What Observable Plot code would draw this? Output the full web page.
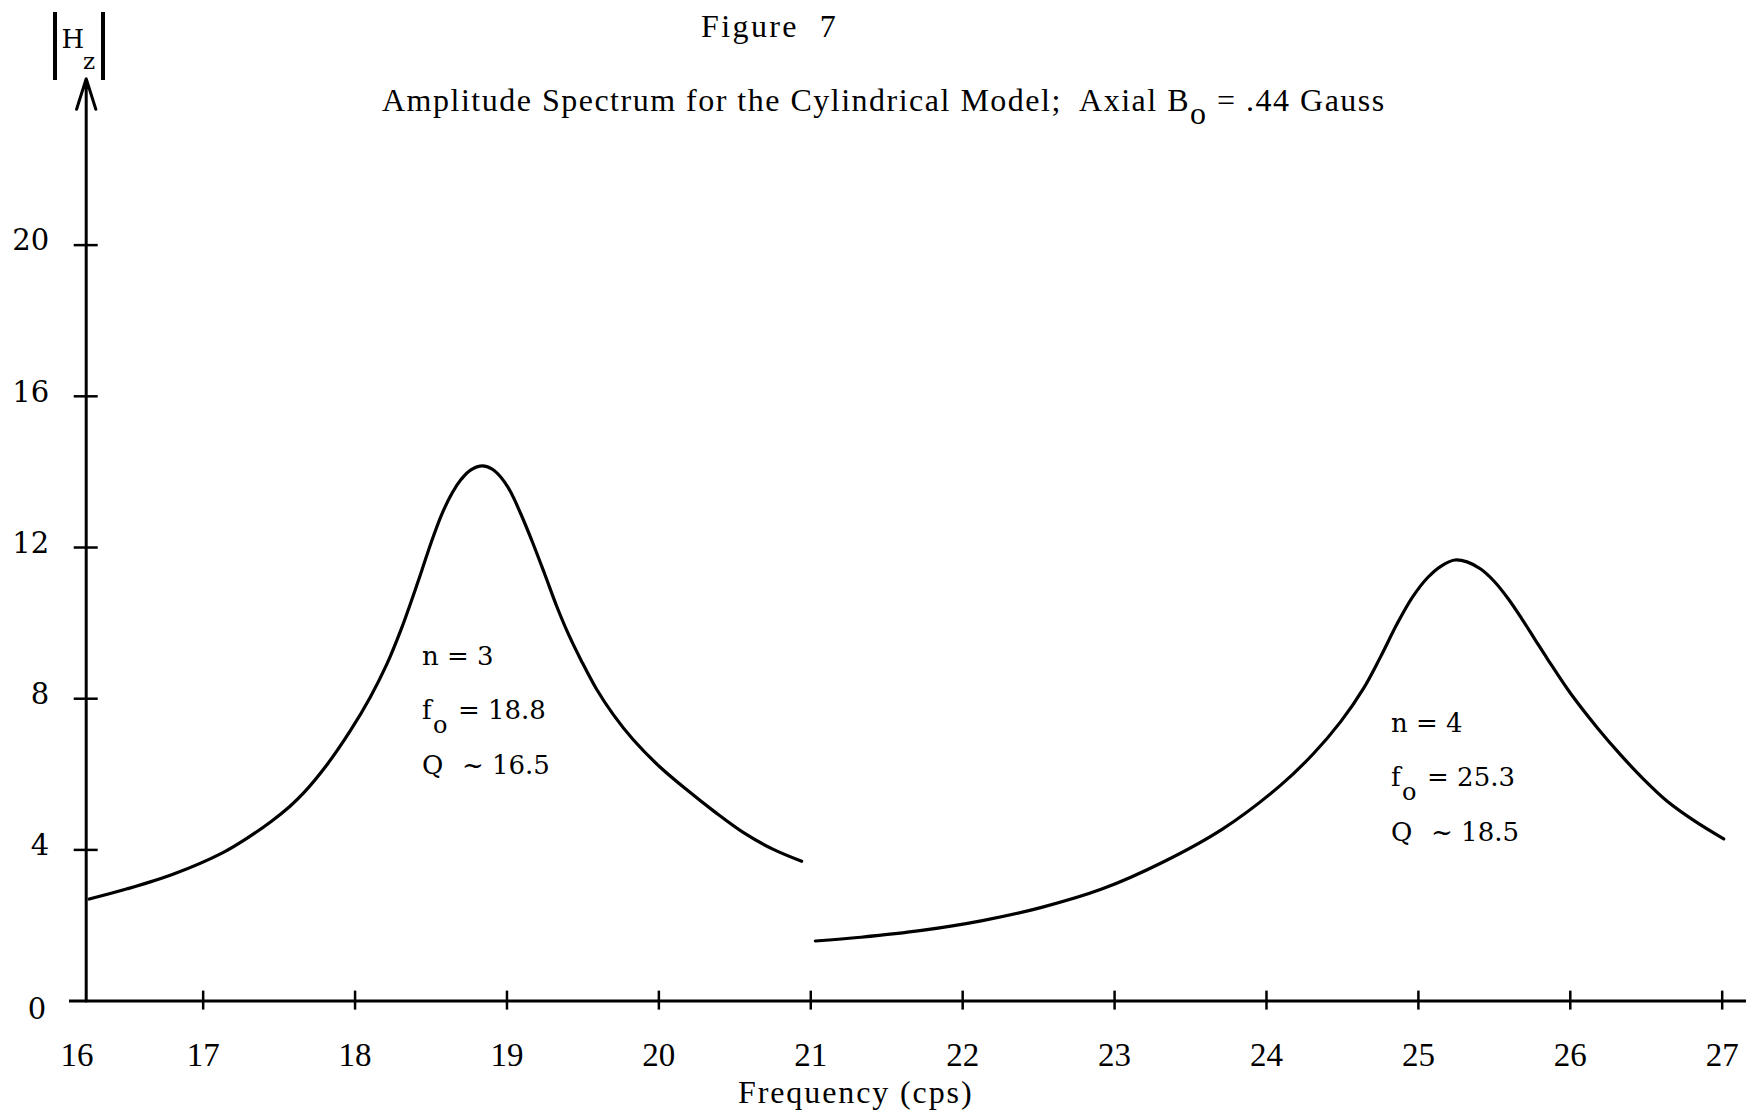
<!DOCTYPE html>
<html>
<head>
<meta charset="utf-8">
<script src="https://cdn.jsdelivr.net/npm/d3@7"></script>
<script src="https://cdn.jsdelivr.net/npm/@observablehq/plot@0.6"></script>
<style>
  body { margin: 0; background: #fff; }
  #wrap { position: relative; width: 1746px; height: 1115px; overflow: hidden; background: #fff; }
  #chart svg { position: absolute; left: 0; top: 0; }
  .t { position: absolute; font-family: "Liberation Serif", serif; line-height: 1; white-space: pre; color: #000; z-index: 2; }
  #hz { position: absolute; left: 53px; top: 12px; width: 43.7px; height: 68px; border-left: 4px solid #000; border-right: 4px solid #000; font-family: "DejaVu Serif", serif; z-index: 2; }
  #hz span { position: absolute; line-height: 1; }
</style>
</head>
<body>
<div id="wrap">
  <div class="t" style="left:701px;top:10px;font-size:32px;letter-spacing:2.4px;">Figure  7</div>
  <div class="t" style="left:382px;top:84px;font-size:32px;letter-spacing:1.5px;">Amplitude Spectrum for the Cylindrical Model;  Axial B<span style="position:relative;top:13px;">o</span> = .44 Gauss</div>
  <div class="t" style="left:738px;top:1076px;font-size:32px;letter-spacing:1.9px;">Frequency (cps)</div>
  <div id="hz"><span style="left:4.5px;top:14px;font-size:26px;">H</span><span style="left:26px;top:37.5px;font-size:23px;">z</span></div>
  <div id="chart"></div>
</div>
<script>
// ---- data ----
const n3Freq = [16.25, 16.50, 16.81, 17.13, 17.30, 17.45, 17.57, 17.66, 17.82, 17.97, 18.10, 18.21, 18.30, 18.37, 18.44, 18.50, 18.57, 18.64, 18.70, 18.76, 18.84, 18.90, 18.96, 19.02, 19.09, 19.17, 19.25, 19.33, 19.41, 19.49, 19.59, 19.70, 19.83, 20.00, 20.19, 20.37, 20.56, 20.75, 20.94];
const n3Amp  = [2.70, 2.97, 3.37, 3.93, 4.34, 4.76, 5.15, 5.50, 6.28, 7.16, 8.04, 8.92, 9.80, 10.58, 11.40, 12.12, 12.87, 13.45, 13.81, 14.05, 14.16, 14.08, 13.86, 13.50, 12.90, 12.12, 11.28, 10.42, 9.66, 9.00, 8.25, 7.58, 6.92, 6.22, 5.57, 5.00, 4.45, 4.02, 3.70];
const n4Freq = [21.03, 21.33, 21.73, 22.13, 22.52, 22.92, 23.32, 23.71, 24.09, 24.31, 24.49, 24.64, 24.75, 24.86, 24.96, 25.06, 25.15, 25.24, 25.32, 25.41, 25.50, 25.59, 25.68, 25.77, 25.85, 26.00, 26.18, 26.33, 26.48, 26.64, 26.82, 27.01];
const n4Amp  = [1.59, 1.69, 1.87, 2.13, 2.48, 2.97, 3.68, 4.55, 5.70, 6.55, 7.40, 8.28, 9.10, 9.98, 10.68, 11.20, 11.51, 11.67, 11.62, 11.43, 11.10, 10.65, 10.12, 9.55, 9.05, 8.15, 7.22, 6.52, 5.88, 5.28, 4.76, 4.29];

const xTickValues = [17, 18, 19, 20, 21, 22, 23, 24, 25, 26, 27];
const xLabelValues = [16.17, 17, 18, 19, 20, 21, 22, 23, 24, 25, 26, 27];
const xLabelTexts = ["16", "17", "18", "19", "20", "21", "22", "23", "24", "25", "26", "27"];
const yTickValues = [4, 8, 12, 16, 20];
const yLabelValues = [4, 8, 12, 16, 20];
const yLabelTexts = ["4", "8", "12", "16", "20"];
const yZeroLabel = ["0"];

const modeN   = ["3", "4"];
const modeF0  = ["18.8", "25.3"];
const modeQ   = ["16.5", "18.5"];
const modeLabelFreq = [18.44, 24.82];
const modeLabelAmp  = [9.12, 7.34];

const xAxisStart = 16.12, xAxisEnd = 27.16;
const yAxisAt = 16.23, yAxisTop = 24.4;

// ---- tables built from the arrays ----
const n3 = n3Freq.map((f, i) => ({f, a: n3Amp[i]}));
const n4 = n4Freq.map((f, i) => ({f, a: n4Amp[i]}));
const xLabels = xLabelValues.map((v, i) => ({v, t: xLabelTexts[i]}));
const yLabels = yLabelValues.map((v, i) => ({v, t: yLabelTexts[i]}));
const modes = modeN.map((n, i) => ({n, f0: modeF0[i], q: modeQ[i], x: modeLabelFreq[i], y: modeLabelAmp[i]}));

const serifNum = "'DejaVu Serif', serif";
const serifTimes = "'Liberation Serif', serif";
const annot = {x: "x", y: "y", textAnchor: "start", fontFamily: serifNum, fontSize: 26, fill: "black"};

const chart = Plot.plot({
  width: 1746,
  height: 1115,
  marginLeft: 85.7,
  marginRight: 0,
  marginTop: 78.3,
  marginBottom: 114.4,
  x: {type: "linear", domain: [yAxisAt, 27.16], axis: null},
  y: {type: "linear", domain: [0, yAxisTop], axis: null},
  style: {background: "white", color: "black", overflow: "visible"},
  marks: [
    // axes
    Plot.ruleY([{y: 0, x1: xAxisStart, x2: xAxisEnd}], {y: "y", x1: "x1", x2: "x2", stroke: "black", strokeWidth: 3}),
    Plot.arrow([{x: yAxisAt, y1: 0, y2: yAxisTop}], {x1: "x", x2: "x", y1: "y1", y2: "y2", stroke: "black", strokeWidth: 3, headLength: 16, headAngle: 35}),
    Plot.ruleX(xTickValues, {x: d => d, y1: () => 0, y2: () => 0, insetTop: -10, insetBottom: -9, stroke: "black", strokeWidth: 2.5}),
    Plot.ruleY(yTickValues, {y: d => d, x1: () => yAxisAt, x2: () => yAxisAt, insetLeft: -12, insetRight: -12, stroke: "black", strokeWidth: 2.5}),
    // tick labels
    Plot.text(xLabels, {x: "v", y: () => 0, text: "t", dy: 54, fontFamily: serifTimes, fontSize: 33, fill: "black"}),
    Plot.text(yLabels, {x: () => yAxisAt, y: "v", text: "t", textAnchor: "end", dx: -37, dy: -4, fontFamily: serifNum, fontSize: 29, fill: "black"}),
    Plot.text(yZeroLabel, {x: () => yAxisAt, y: () => 0, text: d => d, textAnchor: "end", dx: -40, dy: 9, fontFamily: serifNum, fontSize: 29, fill: "black"}),
    // curves
    Plot.line(n3, {x: "f", y: "a", curve: "catmull-rom", stroke: "black", strokeWidth: 3.2}),
    Plot.line(n4, {x: "f", y: "a", curve: "catmull-rom", stroke: "black", strokeWidth: 3.2}),
    // annotations
    Plot.text(modes, {...annot, text: d => "n = " + d.n}),
    Plot.text(modes, {...annot, text: () => "f", dy: 54}),
    Plot.text(modes, {...annot, text: () => "o", dx: 11, dy: 69, fontSize: 24}),
    Plot.text(modes, {...annot, text: d => "= " + d.f0, dx: 36, dy: 54}),
    Plot.text(modes, {...annot, text: () => "Q", dy: 109}),
    Plot.text(modes, {...annot, text: d => "~ " + d.q, dx: 40, dy: 109})
  ]
});
document.getElementById("chart").appendChild(chart);
</script>
</body>
</html>
